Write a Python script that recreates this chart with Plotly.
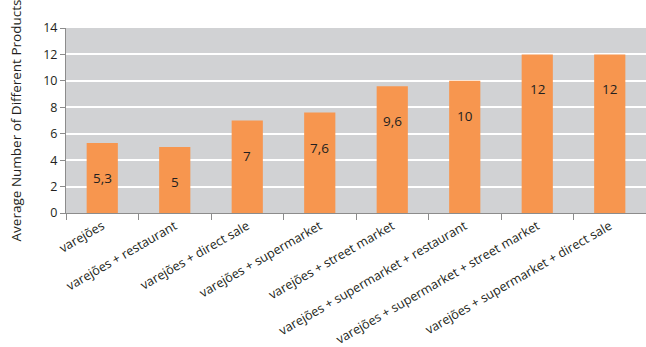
import plotly.graph_objects as go

categories = [
    "varejões",
    "varejões + restaurant",
    "varejões + direct sale",
    "varejões + supermarket",
    "varejões + street market",
    "varejões + supermarket + restaurant",
    "varejões + supermarket + street market",
    "varejões + supermarket + direct sale",
]
values = [5.3, 5, 7, 7.6, 9.6, 10, 12, 12]
value_labels = ["5,3", "5", "7", "7,6", "9,6", "10", "12", "12"]

FONT = "Open Sans"
TXT = "#231F20"

fig = go.Figure()
fig.add_trace(go.Bar(
    x=categories, y=values,
    marker=dict(color="#F7964F", line=dict(width=0)),
    hoverinfo="skip",
))

for c, v, t in zip(categories, values, value_labels):
    fig.add_annotation(x=c, y=v, text=t, showarrow=False, yshift=-35,
                       font=dict(family=FONT, size=13.5, color=TXT))

fig.update_layout(
    width=646, height=347,
    margin=dict(l=66, r=0, t=28, b=134),
    paper_bgcolor="white",
    plot_bgcolor="#D1D2D4",
    bargap=0.57,
    showlegend=False,
    font=dict(family=FONT, color=TXT),
)
fig.update_xaxes(
    type="category",
    automargin=False,
    tickangle=-30,
    tickson="boundaries",
    ticks="outside", ticklen=6, tickcolor="#8C8C8C",
    showline=True, linecolor="#8C8C8C", linewidth=1,
    tickfont=dict(family=FONT, size=12.6, color=TXT),
    showgrid=False,
)
fig.update_yaxes(
    automargin=False,
    range=[0, 14], dtick=2,
    ticks="outside", ticklen=5, tickcolor="#8C8C8C",
    showline=True, linecolor="#8C8C8C", linewidth=1,
    gridcolor="white", gridwidth=1.5,
    tickfont=dict(family=FONT, size=12.5, color=TXT),
    title=dict(text="Average Number of Different Products",
               font=dict(family=FONT, size=13.5, color=TXT), standoff=18),
    zeroline=False,
)

fig.write_html("out.html")
